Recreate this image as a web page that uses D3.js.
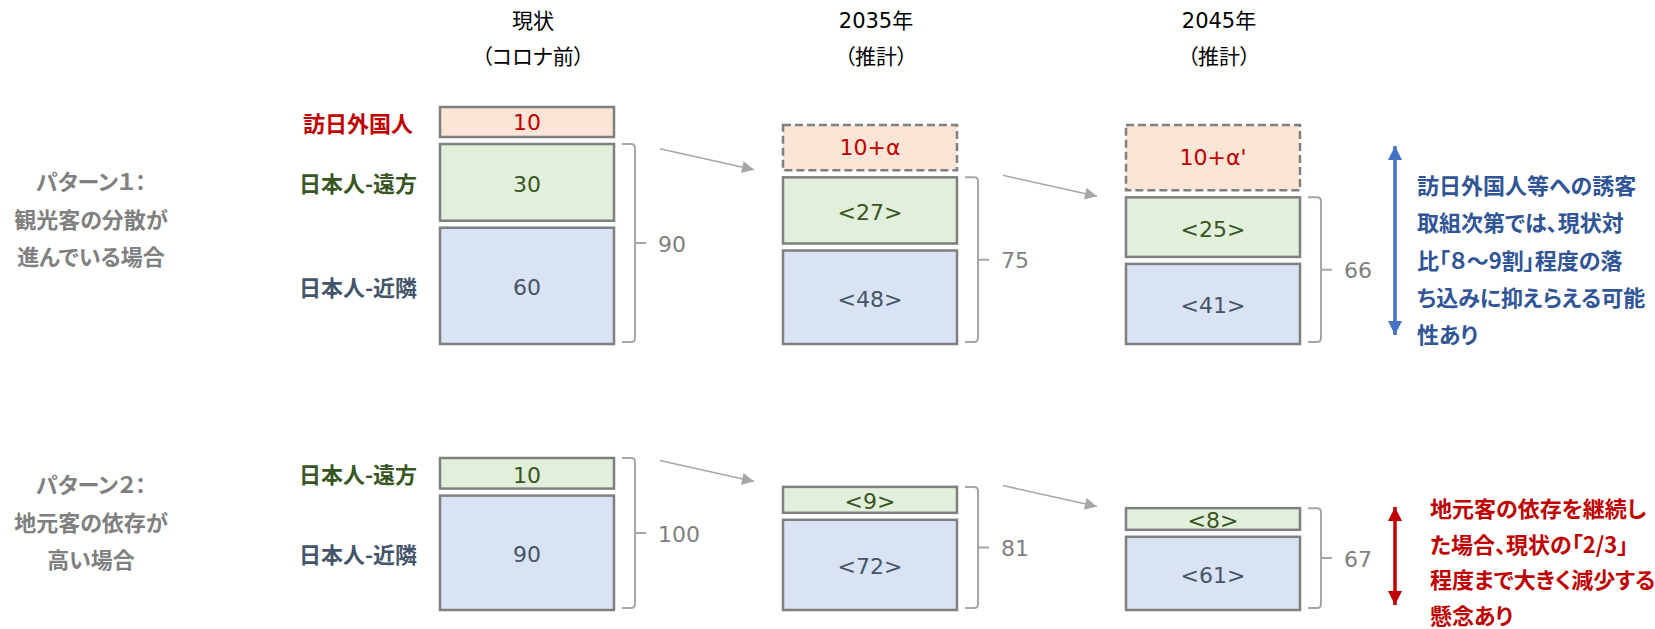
<!DOCTYPE html>
<html lang="ja">
<head>
<meta charset="utf-8">
<script src="https://cdn.jsdelivr.net/npm/d3@7"></script>
<style>
  html, body { margin: 0; padding: 0; background: #ffffff; }
  svg { display: block; font-family: "Noto Sans CJK JP", "Noto Sans", sans-serif; font-feature-settings: "palt"; }
  .num { font-family: "DejaVu Sans", "Noto Sans CJK JP", sans-serif; }
</style>
</head>
<body>
<svg id="chart" width="1655" height="629"></svg>
<script>
// Columns: current state and two projections
const periods = ["現状", "2035年", "2045年"];
const periodNotes = ["（コロナ前）", "（推計）", "（推計）"];

// Visitor segments
const segmentNames = ["訪日外国人", "日本人-遠方", "日本人-近隣"];

// Inbound (foreign) visitors, pattern 1 only
const inboundValue = 10;
const inboundLabels = ["10", "10+α", "10+α'"];

// Pattern 1: tourism is spread out
const p1Distant = [30, 27, 25];
const p1Nearby = [60, 48, 41];
const p1Total = [90, 75, 66];

// Pattern 2: strong reliance on local visitors
const p2Distant = [10, 9, 8];
const p2Nearby = [90, 72, 61];
const p2Total = [100, 81, 67];

// Scenario captions (left) and conclusions (right)
const p1Title = ["パターン１：", "観光客の分散が", "進んでいる場合"];
const p2Title = ["パターン２：", "地元客の依存が", "高い場合"];
const p1Note = ["訪日外国人等への誘客", "取組次第では、現状対", "比「８～9割」程度の落", "ち込みに抑えらえる可能", "性あり"];
const p2Note = ["地元客の依存を継続し", "た場合、現状の「2/3」", "程度まで大きく減少する", "懸念あり"];

// ---------------------------------------------------------------
const svg = d3.select("#chart");

const colors = {
  fill:  { inbound: "#fbe5d6", distant: "#e2efda", nearby: "#dae3f3" },
  ink:   { inbound: "#c00000", distant: "#375623", nearby: "#44546a" },
  box: "#7f7f7f",
  brace: "#a6a6a6",
  total: "#7f7f7f",
  caption: "#808080"
};

const boxW = 174;
const gap = 7;
const x = d3.scalePoint().domain(periods).range([440, 1126]);
// segments inside a stack are weighted on a compressed scale so small shares stay legible
const weight = d3.scalePow().exponent(0.6).domain([0, 100]).range([0, 1]);
const inboundH = d3.scaleLinear().domain([0, 10]).range([0, 30]);

const fmt = (v, i) => i === 0 ? String(v) : `<${v}>`;

const defs = svg.append("defs");
function marker(id, color, w, h) {
  defs.append("marker")
    .attr("id", id)
    .attr("viewBox", "0 0 10 10")
    .attr("refX", 10).attr("refY", 5)
    .attr("markerUnits", "userSpaceOnUse")
    .attr("markerWidth", w).attr("markerHeight", h)
    .attr("orient", "auto-start-reverse")
    .append("path").attr("d", "M0,0 L10,5 L0,10 Z").attr("fill", color);
}
marker("arrGray", colors.brace, 13, 12);
marker("arrBlue", "#4472c4", 14, 15);
marker("arrRed", "#c00000", 14, 15);

// Column headings
const heads = svg.append("g").attr("class", "num").attr("font-size", 21).attr("fill", "#000").attr("text-anchor", "middle");
periods.forEach((p, i) => {
  const cx = x(p) + boxW / 2 + 6;
  heads.append("text").attr("x", cx).attr("y", 21).attr("dominant-baseline", "central").text(p);
  heads.append("text").attr("x", cx).attr("y", 57).attr("dominant-baseline", "central").text(periodNotes[i]);
});

const patterns = [
  {
    distant: p1Distant, nearby: p1Nearby, total: p1Total,
    base: 344, h: d3.scaleLinear().domain([0, 90]).range([0, 200]),
    inbound: true, projCeil: 125,
    title: p1Title, titleY: 180,
    note: p1Note, noteX: 1417, noteY: 184, noteStep: 37.3, noteColor: "#2f5597",
    arrow: { y0: 134, y1: 347, id: "arrBlue", color: "#4472c4" }
  },
  {
    distant: p2Distant, nearby: p2Nearby, total: p2Total,
    base: 610, h: d3.scaleLinear().domain([0, 100]).range([0, 152]),
    inbound: false,
    title: p2Title, titleY: 483,
    note: p2Note, noteX: 1430, noteY: 507, noteStep: 35.5, noteColor: "#c00000",
    arrow: { y0: 495, y1: 617, id: "arrRed", color: "#c00000" }
  }
];

patterns.forEach(pt => {
  const g = svg.append("g");

  // stack geometry per column
  const cols = periods.map((p, i) => {
    const top = pt.base - pt.h(pt.total[i]);
    const avail = pt.h(pt.total[i]) - gap;
    const wD = weight(pt.distant[i]), wN = weight(pt.nearby[i]);
    const hD = avail * wD / (wD + wN);
    return {
      p, i, x0: x(p), top,
      distant: { y: top, h: hD, v: pt.distant[i] },
      nearby: { y: top + hD + gap, h: avail - hD, v: pt.nearby[i] }
    };
  });

  // scenario caption
  g.append("g").attr("fill", colors.caption).attr("font-size", 22).attr("font-weight", 700)
    .attr("text-anchor", "middle")
    .selectAll("text").data(pt.title).join("text")
    .attr("x", 91).attr("y", (d, k) => pt.titleY + k * 37.5)
    .attr("dominant-baseline", "central").text(d => d);

  cols.forEach(c => {
    ["distant", "nearby"].forEach(key => {
      const s = c[key];
      g.append("rect")
        .attr("x", c.x0).attr("y", s.y).attr("width", boxW).attr("height", s.h)
        .attr("fill", colors.fill[key]).attr("stroke", colors.box).attr("stroke-width", 2.5);
      g.append("text").attr("class", "num")
        .attr("x", c.x0 + boxW / 2).attr("y", s.y + s.h / 2 + 2)
        .attr("text-anchor", "middle").attr("dominant-baseline", "central")
        .attr("font-size", 22).attr("fill", colors.ink[key])
        .text(fmt(s.v, c.i));
    });

    // total brace
    const r = 4;
    const bx0 = c.x0 + boxW + 8, bxv = c.x0 + boxW + 21, bxt = c.x0 + boxW + 32;
    const bTop = c.top, bBot = pt.base - 2, mid = (bTop + bBot) / 2;
    g.append("path")
      .attr("d", `M${bx0},${bTop} H${bxv - r} Q${bxv},${bTop} ${bxv},${bTop + r} V${bBot - r} Q${bxv},${bBot} ${bxv - r},${bBot} H${bx0} M${bxv},${mid} H${bxt}`)
      .attr("fill", "none").attr("stroke", colors.brace).attr("stroke-width", 2);
    g.append("text").attr("class", "num")
      .attr("x", bxv + 23).attr("y", mid + 1).attr("dominant-baseline", "central")
      .attr("font-size", 22).attr("fill", colors.total)
      .text(pt.total[c.i]);

    // inbound visitors on top
    if (pt.inbound) {
      const bottom = c.top - gap;
      const y0 = c.i === 0 ? bottom - inboundH(inboundValue) : pt.projCeil;
      g.append("rect")
        .attr("x", c.x0).attr("y", y0).attr("width", boxW).attr("height", bottom - y0)
        .attr("fill", colors.fill.inbound).attr("stroke", colors.box).attr("stroke-width", 2.5)
        .attr("stroke-dasharray", c.i === 0 ? null : "8,4");
      g.append("text").attr("class", "num")
        .attr("x", c.x0 + boxW / 2).attr("y", (y0 + bottom) / 2)
        .attr("text-anchor", "middle").attr("dominant-baseline", "central")
        .attr("font-size", 22).attr("fill", colors.ink.inbound)
        .text(inboundLabels[c.i]);
    }
  });

  // segment names beside the first column
  const first = cols[0];
  const rowLabels = [];
  if (pt.inbound) {
    const b = first.top - gap;
    rowLabels.push({ t: segmentNames[0], y: b - inboundH(inboundValue) / 2, c: colors.ink.inbound });
  }
  rowLabels.push({ t: segmentNames[1], y: first.distant.y + first.distant.h / 2, c: colors.ink.distant });
  rowLabels.push({ t: segmentNames[2], y: first.nearby.y + first.nearby.h / 2, c: colors.ink.nearby });
  g.append("g").attr("font-size", 22).attr("font-weight", 700).attr("text-anchor", "middle")
    .selectAll("text").data(rowLabels).join("text")
    .attr("x", 358).attr("y", d => d.y).attr("dominant-baseline", "central")
    .attr("fill", d => d.c).text(d => d.t);

  // transition arrows between columns
  for (let i = 0; i < cols.length - 1; i++) {
    const a = cols[i], b = cols[i + 1];
    const m = (a.top + b.top) / 2;
    g.append("line")
      .attr("x1", a.x0 + boxW + 46).attr("y1", m - 12)
      .attr("x2", b.x0 - 29).attr("y2", m + 9)
      .attr("stroke", colors.brace).attr("stroke-width", 1.5)
      .attr("marker-end", "url(#arrGray)");
  }

  // conclusion arrow and text
  g.append("line")
    .attr("x1", 1395).attr("x2", 1395).attr("y1", pt.arrow.y0 + 12).attr("y2", pt.arrow.y1 - 12)
    .attr("stroke", pt.arrow.color).attr("stroke-width", 3.5)
    .attr("marker-start", `url(#${pt.arrow.id})`).attr("marker-end", `url(#${pt.arrow.id})`);
  g.append("g").attr("font-size", 22).attr("font-weight", 700).attr("fill", pt.noteColor)
    .selectAll("text").data(pt.note).join("text")
    .attr("x", pt.noteX).attr("y", (d, k) => pt.noteY + k * pt.noteStep)
    .attr("dominant-baseline", "central").text(d => d);
});
</script>
</body>
</html>
